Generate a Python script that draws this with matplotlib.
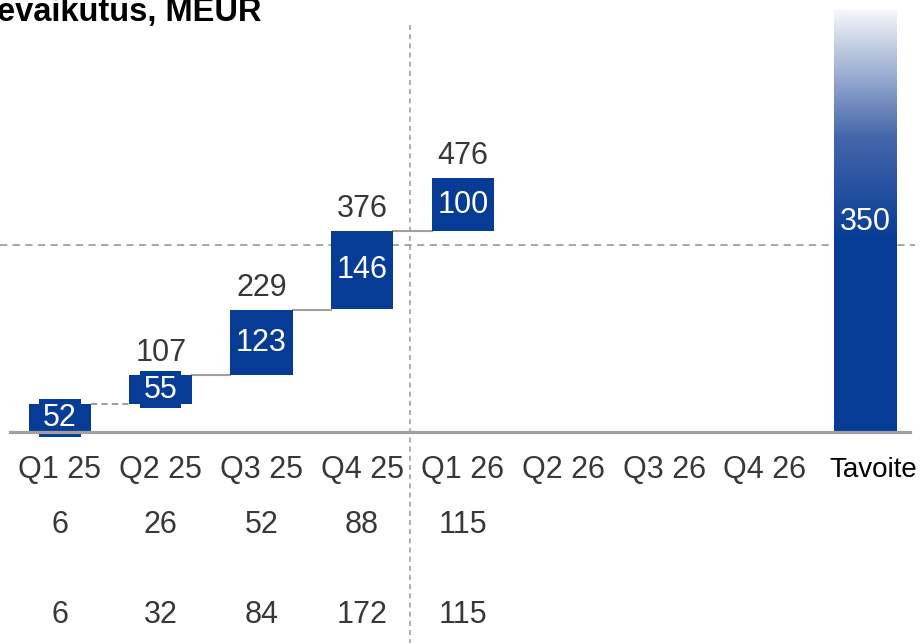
"""Cumulative impact waterfall, MEUR, with target bar."""

import matplotlib

matplotlib.use("Agg")
import matplotlib.pyplot as plt
import numpy as np
from matplotlib.colors import LinearSegmentedColormap

plt.rcParams["font.family"] = ["Liberation Sans", "DejaVu Sans"]

CATEGORIES = ["Q1 25", "Q2 25", "Q3 25", "Q4 25", "Q1 26", "Q2 26", "Q3 26", "Q4 26", "Tavoite"]
INCREMENTS = [52, 55, 123, 146, 100]
CUMULATIVE = [52, 107, 229, 376, 476]
TARGET = 350
ROW_1 = [6, 26, 52, 88, 115]
ROW_2 = [6, 32, 84, 172, 115]

BLUE = "#063c96"
GREY_LINE = "#a0a0a0"
TEXT = "#383838"

W, H = 923, 643
X0, DX = 60.0, 100.7  # px of first category centre, px per category
Y0, DY = 432.0, 0.534  # px of baseline, px per MEUR
FS = 22


def vy(py):
    """Pixel row (from top) to data value."""
    return (Y0 - py) / DY


def vx(px):
    return (px - X0) / DX


def main() -> None:
    fig = plt.figure(figsize=(W / 100, H / 100), dpi=100)
    ax = fig.add_axes([0, 0, 1, 1])
    ax.set_xlim(vx(0), vx(W))
    ax.set_ylim(vy(H), vy(0))
    ax.axis("off")

    width = 0.62
    bottoms = [c - d for c, d in zip(CUMULATIVE, INCREMENTS)]
    idx = np.arange(len(INCREMENTS))
    ax.bar(idx, INCREMENTS, bottom=bottoms, width=width, color=BLUE, zorder=3)

    # connectors
    for i in range(len(CUMULATIVE) - 1):
        ax.plot([i + width / 2, i + 1 - width / 2], [CUMULATIVE[i]] * 2,
                color=GREY_LINE, lw=1.5, ls=(0, (3, 2)) if i == 0 else "-", zorder=2)

    # labels inside bars
    for i, (b, d) in enumerate(zip(bottoms, INCREMENTS)):
        ax.text(i, b + d / 2, str(d), ha="center", va="center", color="white",
                fontsize=FS, zorder=4,
                bbox=dict(boxstyle="square,pad=0.12", fc=BLUE, ec="none"))

    # totals above bars
    for i, c in enumerate(CUMULATIVE):
        if i == 0:
            continue
        ax.text(i, c + 22 / DY, str(c), ha="center", va="center",
                color=TEXT, fontsize=FS)

    # target gradient bar
    ti = len(CATEGORIES) - 1
    top = vy(10)
    cmap = LinearSegmentedColormap.from_list(
        "tgt", [(0, BLUE), (0.45, BLUE), (0.7, "#4466aa"), (1.0, "#f4f6fa")])
    grad = np.linspace(0, 1, 256).reshape(-1, 1)
    ax.imshow(grad, cmap=cmap, origin="lower", aspect="auto",
              extent=[ti - width / 2, ti + width / 2, 0, top], zorder=3)
    ax.text(ti, vy(222), str(TARGET), ha="center", va="center", color="white",
            fontsize=FS, zorder=4)

    # baseline, target line, divider
    ax.plot([vx(10), vx(910)], [0, 0], color=GREY_LINE, lw=2.3, zorder=5)
    ax.plot([vx(0), vx(915)], [TARGET, TARGET], color=GREY_LINE, lw=1.3,
            ls=(0, (4, 3)), zorder=2)
    ax.plot([vx(410), vx(410)], [vy(25), vy(H)], color=GREY_LINE, lw=1.2,
            ls=(0, (3, 2.5)), zorder=2)

    # category labels and rows below
    for i, cat in enumerate(CATEGORIES):
        last = i == ti
        ax.text(vx(873) if last else i, vy(470), cat, ha="center", va="center",
                color="black" if last else TEXT, fontsize=20 if last else FS)
    for i, (a, b) in enumerate(zip(ROW_1, ROW_2)):
        ax.text(i, vy(525), str(a), ha="center", va="center", color=TEXT, fontsize=FS)
        ax.text(i, vy(615), str(b), ha="center", va="center", color=TEXT, fontsize=FS)

    fig.text(-0.003, 1 - 21 / H, "evaikutus, MEUR", ha="left", va="baseline",
             fontsize=23.5, fontweight="bold", color="black")

    fig.savefig("out.png", dpi=100)


if __name__ == "__main__":
    main()
